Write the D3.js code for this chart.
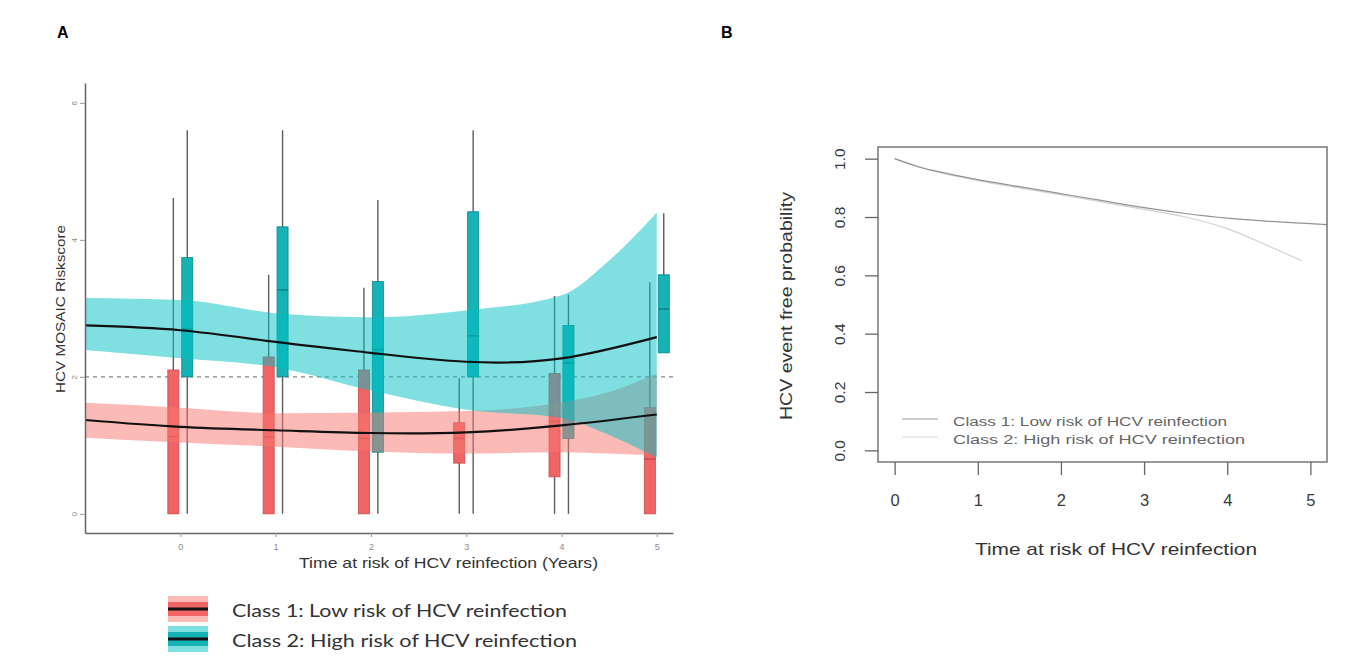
<!DOCTYPE html>
<html>
<head>
<meta charset="utf-8">
<script src="https://cdn.jsdelivr.net/npm/d3@7/dist/d3.min.js"></script>
<style>
  body { margin: 0; background: #fff; }
  text { font-family: "Liberation Sans", Arial, sans-serif; }
</style>
</head>
<body>
<div id="root"></div>
<script>
// Two panels: boxplots + smooth fits (A), survival curves (B)
"use strict";

/* ************************************* Data ******************************** */

const years = [0, 1, 2, 3, 4, 5];

// Class 1 (low risk) boxplot stats per year
const c1Low = [0, 0, 0, 0, 0, 0];
const c1Q1 = [0, 0, 0, 0.74, 0.54, 0];
const c1Med = [1.13, 1.12, 1.1, 1.1, 1.35, 0.8];
const c1Q3 = [2.1, 2.29, 2.1, 1.33, 2.05, 1.55];
const c1High = [4.61, 3.49, 3.3, 1.98, 3.18, 3.38];

// Class 2 (high risk) boxplot stats per year
const c2Low = [0, 0, 0, 0, 0, 2.35];
const c2Q1 = [2.0, 2.0, 0.9, 2.0, 1.1, 2.35];
const c2Med = [2.7, 3.27, 2.4, 2.6, 2.2, 2.99];
const c2Q3 = [3.74, 4.19, 3.39, 4.41, 2.75, 3.49];
const c2High = [5.6, 5.6, 4.58, 5.6, 3.2, 4.39];

// Smoothed trajectories
const fitX = [-1, 0, 1, 2, 3, 4, 5];
const c1Fit = [1.37, 1.27, 1.22, 1.18, 1.19, 1.29, 1.45];
const c2Fit = [2.75, 2.68, 2.51, 2.35, 2.22, 2.27, 2.58];

// Confidence bands
const bandX = [-1, 0, 1, 2, 3, 4, 4.5, 5];
const c1BandLo = [1.11, 1.04, 0.98, 0.91, 0.88, 0.9, 0.88, 0.85];
const c1BandHi = [1.62, 1.55, 1.47, 1.48, 1.5, 1.63, 1.78, 2.05];
const c2BandLo = [2.39, 2.27, 2.14, 1.8, 1.52, 1.4, 1.15, 0.82];
const c2BandHi = [3.15, 3.12, 2.93, 2.87, 2.97, 3.19, 3.7, 4.4];

const yTicksA = [0, 2, 4, 6];
const cutoff = 2;

// Panel B survival curves
const survT1 = [0, 0.25, 0.5, 1, 1.5, 2, 2.5, 3, 3.5, 4, 4.5, 5, 5.2];
const survP1 = [1.0, 0.975, 0.957, 0.928, 0.904, 0.88, 0.856, 0.832, 0.812, 0.796, 0.785, 0.777, 0.774];
const survT2 = [0, 0.5, 1, 1.5, 2, 2.5, 3, 3.5, 4, 4.5, 4.9];
const survP2 = [1.0, 0.955, 0.925, 0.9, 0.876, 0.851, 0.826, 0.8, 0.76, 0.7, 0.65];

const yTicksB = [0, 0.2, 0.4, 0.6, 0.8, 1.0];
const xTicksB = [0, 1, 2, 3, 4, 5];

const classLabels = ["Class 1: Low risk of HCV reinfection", "Class 2: High risk of HCV reinfection"];

/* ************************************* Styles ******************************** */

const redFill = "#f06466";
const redEdge = "#c94c4e";
const redBand = "#f8766d";
const tealFill = "#16b3b6";
const tealEdge = "#0c8588";
const tealBand = "#00bfc4";

/* ************************************* SVG ******************************** */

let svg = d3.select("#root")
    .append("svg")
    .attr("width", 1363)
    .attr("height", 658)
    .style("background", "#fff");

/* ************************************* Panel A ******************************** */

let xA = d3.scaleLinear().domain([-1, 5.17]).range([85, 673]);
let yA = d3.scaleLinear().domain([-0.28, 6.29]).range([533, 83]);

let gA = svg.append("g");

// reference line at the cutoff
gA.append("line")
    .attr("x1", xA.range()[0]).attr("x2", xA.range()[1])
    .attr("y1", yA(cutoff)).attr("y2", yA(cutoff))
    .attr("stroke", "#8a8a8a")
    .attr("stroke-width", 1.2)
    .attr("stroke-dasharray", "4,4");

const dodge = 0.073;
const halfW = xA(0.058) - xA(0);

function drawBoxes(low, q1, med, q3, high, shift, fill, edge) {
    let rows = years.map((yr, i) => ({
        x: yr + shift, low: low[i], q1: q1[i], med: med[i], q3: q3[i], high: high[i]
    }));
    let g = gA.append("g");
    g.selectAll("line.whisk").data(rows).enter().append("line")
        .attr("class", "whisk")
        .attr("x1", d => xA(d.x)).attr("x2", d => xA(d.x))
        .attr("y1", d => yA(d.low)).attr("y2", d => yA(d.high))
        .attr("stroke", "#5c5c5c")
        .attr("stroke-width", 1.4);
    g.selectAll("rect").data(rows).enter().append("rect")
        .attr("x", d => xA(d.x) - halfW)
        .attr("y", d => yA(d.q3))
        .attr("width", halfW * 2)
        .attr("height", d => yA(d.q1) - yA(d.q3))
        .attr("fill", fill)
        .attr("stroke", edge)
        .attr("stroke-width", 0.8);
    g.selectAll("line.med").data(rows).enter().append("line")
        .attr("class", "med")
        .attr("x1", d => xA(d.x) - halfW).attr("x2", d => xA(d.x) + halfW)
        .attr("y1", d => yA(d.med)).attr("y2", d => yA(d.med))
        .attr("stroke", edge)
        .attr("stroke-width", 1.6);
}

drawBoxes(c1Low, c1Q1, c1Med, c1Q3, c1High, -dodge, redFill, redEdge);
drawBoxes(c2Low, c2Q1, c2Med, c2Q3, c2High, dodge, tealFill, tealEdge);

// confidence bands on top of the boxes
let band = d3.area()
    .x(d => xA(d.x))
    .y0(d => yA(d.lo))
    .y1(d => yA(d.hi))
    .curve(d3.curveMonotoneX);

gA.append("path")
    .datum(bandX.map((x, i) => ({ x: x, lo: c1BandLo[i], hi: c1BandHi[i] })))
    .attr("d", band)
    .attr("fill", redBand)
    .attr("fill-opacity", 0.5);

gA.append("path")
    .datum(bandX.map((x, i) => ({ x: x, lo: c2BandLo[i], hi: c2BandHi[i] })))
    .attr("d", band)
    .attr("fill", tealBand)
    .attr("fill-opacity", 0.5);

let fitLine = d3.line()
    .x(d => xA(d.x))
    .y(d => yA(d.y))
    .curve(d3.curveNatural);

[c1Fit, c2Fit].forEach(vals => {
    gA.append("path")
        .datum(fitX.map((x, i) => ({ x: x, y: vals[i] })))
        .attr("d", fitLine)
        .attr("fill", "none")
        .attr("stroke", "#111")
        .attr("stroke-width", 2.2);
});

// axes
let yAxisA = gA.append("g")
    .attr("transform", `translate(${xA.range()[0]},0)`)
    .call(d3.axisLeft(yA).tickValues(yTicksA).tickFormat(d3.format("d")).tickSize(5).tickSizeOuter(0));
yAxisA.selectAll("text")
    .attr("x", 0).attr("y", -8).attr("dy", 0)
    .attr("transform", "rotate(-90)")
    .attr("text-anchor", "middle")
    .attr("font-size", 8)
    .attr("fill", "#8a8a8a");

let xAxisA = gA.append("g")
    .attr("transform", `translate(0,${yA.range()[0]})`)
    .call(d3.axisBottom(xA).tickValues(years).tickFormat(d3.format("d")).tickSize(4).tickSizeOuter(0));
xAxisA.selectAll("text")
    .attr("y", 17).attr("dy", 0)
    .attr("font-size", 9)
    .attr("fill", "#8a8a8a");

[yAxisA, xAxisA].forEach(ax => {
    ax.select(".domain").attr("stroke", "#666").attr("stroke-width", 1.5);
    ax.selectAll(".tick line").attr("stroke", "#999");
});

gA.append("text")
    .attr("transform", "translate(65,309) rotate(-90)")
    .attr("text-anchor", "middle")
    .attr("font-size", 12)
    .attr("textLength", 168)
    .attr("lengthAdjust", "spacingAndGlyphs")
    .attr("fill", "#333")
    .text("HCV MOSAIC Riskscore");

gA.append("text")
    .attr("x", 299).attr("y", 568)
    .attr("font-size", 14.5)
    .attr("textLength", 299)
    .attr("lengthAdjust", "spacingAndGlyphs")
    .attr("fill", "#333")
    .text("Time at risk of HCV reinfection (Years)");

svg.append("text")
    .attr("x", 57).attr("y", 38)
    .attr("font-size", 16).attr("font-weight", "bold")
    .text("A");

// legend for panel A
let legA = svg.append("g");
[[redFill, redBand], [tealFill, tealBand]].forEach((c, i) => {
    let top = 596 + i * 30;
    legA.append("rect")
        .attr("x", 168).attr("y", top).attr("width", 40).attr("height", 26)
        .attr("fill", c[1]).attr("fill-opacity", 0.5);
    legA.append("rect")
        .attr("x", 168).attr("y", top + 6).attr("width", 40).attr("height", 14)
        .attr("fill", c[0]);
    legA.append("line")
        .attr("x1", 168).attr("x2", 208)
        .attr("y1", top + 13).attr("y2", top + 13)
        .attr("stroke", "#111").attr("stroke-width", 3);
    legA.append("text")
        .attr("x", 232).attr("y", 617 + i * 30)
        .style("font-family", "Lato, 'Open Sans', sans-serif")
        .attr("font-size", 17)
        .attr("textLength", i === 0 ? 335 : 345)
        .attr("lengthAdjust", "spacingAndGlyphs")
        .attr("fill", "#333")
        .text(classLabels[i]);
});

/* ************************************* Panel B ******************************** */

let xB = d3.scaleLinear().domain([-0.2, 5.2]).range([878, 1327]);
let yB = d3.scaleLinear().domain([-0.04, 1.04]).range([462, 147]);

let gB = svg.append("g");

let survLine = d3.line()
    .x(d => xB(d.t))
    .y(d => yB(d.p))
    .curve(d3.curveMonotoneX);

gB.append("path")
    .datum(survT2.map((t, i) => ({ t: t, p: survP2[i] })))
    .attr("d", survLine)
    .attr("fill", "none")
    .attr("stroke", "#d2d2d2")
    .attr("stroke-width", 1.2);

gB.append("path")
    .datum(survT1.map((t, i) => ({ t: t, p: survP1[i] })))
    .attr("d", survLine)
    .attr("fill", "none")
    .attr("stroke", "#939393")
    .attr("stroke-width", 1.2);

gB.append("rect")
    .attr("x", xB.range()[0]).attr("y", yB.range()[1])
    .attr("width", xB.range()[1] - xB.range()[0])
    .attr("height", yB.range()[0] - yB.range()[1])
    .attr("fill", "none")
    .attr("stroke", "#777")
    .attr("stroke-width", 1.5);

let yAxisB = gB.append("g")
    .attr("transform", `translate(${xB.range()[0]},0)`)
    .call(d3.axisLeft(yB).tickValues(yTicksB).tickSize(13).tickFormat(d3.format(".1f")));
yAxisB.selectAll("text")
    .attr("x", 0).attr("y", -33).attr("dy", 0)
    .attr("transform", "rotate(-90)")
    .attr("text-anchor", "middle")
    .attr("font-size", 15.5)
    .attr("fill", "#3a3a3a");

let xAxisB = gB.append("g")
    .attr("transform", `translate(0,${yB.range()[0]})`)
    .call(d3.axisBottom(xB).tickValues(xTicksB).tickFormat(d3.format("d")).tickSize(13));
xAxisB.selectAll("text")
    .attr("y", 44).attr("dy", 0)
    .attr("font-size", 16.5)
    .attr("fill", "#3a3a3a");

[yAxisB, xAxisB].forEach(ax => {
    ax.select(".domain").remove();
    ax.selectAll(".tick line").attr("stroke", "#666").attr("stroke-width", 1.3);
});

gB.append("text")
    .attr("transform", "translate(792,306) rotate(-90)")
    .attr("text-anchor", "middle")
    .attr("font-size", 16)
    .attr("textLength", 228)
    .attr("lengthAdjust", "spacingAndGlyphs")
    .attr("fill", "#333")
    .text("HCV event free probability");

gB.append("text")
    .attr("x", 975).attr("y", 555)
    .attr("font-size", 17)
    .attr("textLength", 282)
    .attr("lengthAdjust", "spacingAndGlyphs")
    .attr("fill", "#333")
    .text("Time at risk of HCV reinfection");

// legend for panel B
["#bdbdbd", "#e6e6e6"].forEach((col, i) => {
    gB.append("line")
        .attr("x1", 902).attr("x2", 938)
        .attr("y1", 419 + i * 18).attr("y2", 419 + i * 18)
        .attr("stroke", col).attr("stroke-width", 1.3);
    gB.append("text")
        .attr("x", 953).attr("y", 426 + i * 18)
        .attr("font-size", 12.5)
        .attr("textLength", i === 0 ? 274 : 292)
        .attr("lengthAdjust", "spacingAndGlyphs")
        .attr("fill", "#666")
        .text(classLabels[i]);
});

svg.append("text")
    .attr("x", 721).attr("y", 38)
    .attr("font-size", 16).attr("font-weight", "bold")
    .text("B");
</script>
</body>
</html>
